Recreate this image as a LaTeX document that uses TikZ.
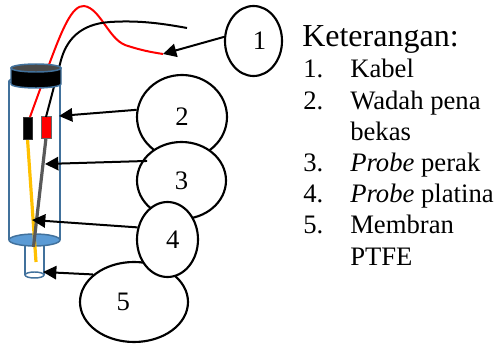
\documentclass[tikz,border=0pt]{standalone}
\usepackage{fontspec}
\setmainfont{Liberation Serif}
\usepackage{xcolor}
\usepackage{tikz}
\usetikzlibrary{shapes.geometric, arrows.meta}

\definecolor{tubeblue}{HTML}{41719C}
\definecolor{tubefill}{HTML}{5B9BD5}
\definecolor{wireyellow}{HTML}{FFC000}
\definecolor{wiregray}{HTML}{595959}
\definecolor{capgray}{HTML}{4A4A4A}

\newcommand{\labelfont}{\fontsize{20}{23.4}\selectfont}
\newcommand{\titlefont}{\fontsize{24}{28}\selectfont}

\tikzset{
  % Sensor body styles
  tubeline/.style={draw=tubeblue, line width=1.1pt},
  cable/.style={line width=1.5pt},
  wire/.style={line width=2.4pt},
  % Callout styles
  callout/.style={ellipse, draw=black, line width=1.6pt, fill=white, inner sep=0pt, font=\labelfont},
  pointer/.style={-{Triangle[length=10pt, width=10pt]}, line width=1.5pt},
}

\begin{document}
\begin{tikzpicture}[x=0.75pt, y=-0.75pt]
    \useasboundingbox (0,0) rectangle (497,345);

    % Tube (pen barrel)
    \draw[tubeline] (34.5,81) ellipse[x radius=25.5, y radius=4];
    \draw[tubeline] (9,81) -- (9,240);
    \draw[tubeline] (60,81) -- (60,240);
    \filldraw[tubeline, fill=tubefill] (34.5,240) ellipse[x radius=25.5, y radius=6];

    % Nozzle with membrane
    \draw[tubeline] (25,246) -- (25,275);
    \draw[tubeline] (44,246) -- (44,275);
    \filldraw[tubeline, fill=white] (34.5,275) ellipse[x radius=9.5, y radius=3];

    % Probes
    \draw[wire, wireyellow] (27.5,139) -- (36,262);
    \draw[wire, wiregray] (46,138) -- (33.5,247);

    % Connectors
    \filldraw[draw=black!80, fill=black] (23,117) rectangle (32,139);
    \filldraw[draw=black!60, fill=red] (41,116) rectangle (51,138);

    % Cables
    \draw[cable, red] (30,117) -- (50,62)
        .. controls (62,30) and (72,5) .. (84,6)
        .. controls (100,8) and (108,38) .. (125,45)
        .. controls (140,50) and (150,52) .. (163,54);
    \draw[cable, black] (46,117) -- (60.5,62)
        .. controls (66,40) and (80,24) .. (110,22)
        .. controls (140,20) and (165,24) .. (187,28);

    % Cap
    \filldraw[tubeline, fill=black] (11,68) -- (11,84)
        arc[start angle=180, end angle=0, x radius=25, y radius=4] -- (61,68) -- cycle;
    \filldraw[tubeline, fill=capgray] (36,68) ellipse[x radius=25, y radius=4];

    % Arrow targets
    \coordinate (redend) at (163,54);
    \coordinate (tubewall) at (59,116);
    \coordinate (silver) at (45,164);
    \coordinate (platinum) at (32,220);
    \coordinate (membrane) at (43,272);

    % Numbered callouts
    \node[callout, minimum width=42.75pt, minimum height=52.5pt,
          label={[font=\labelfont, xshift=4.5pt]center:1}] (e1) at (253.5,41) {};
    \node[callout, minimum width=67.5pt, minimum height=63pt] (e2) at (182,117) {2};
    \node[callout, minimum width=66.75pt, minimum height=57.75pt] (e3) at (181.5,180.5) {3};
    \node[callout, minimum width=81pt, minimum height=60pt,
          label={[font=\labelfont, xshift=-8pt]center:5}] (e5) at (134,302) {};
    \node[callout, minimum width=45.75pt, minimum height=56.25pt,
          label={[font=\labelfont, xshift=4pt]center:4}] (e4) at (167.5,239.5) {};

    % Arrows
    \draw[pointer] (e1.172) -- (redend);
    \draw[pointer] (e2.171) -- (tubewall);
    \draw[pointer, shorten <=-4pt] (e3.154) -- (silver);
    \draw[pointer] (e4.158) -- (platinum);
    \draw[pointer] (e5.146) -- (membrane);

    % Legend
    \node[anchor=base west, inner sep=0pt, font=\titlefont] (title) at (302,47) {Keterangan:};
    \node[anchor=base west, inner sep=0pt, font=\labelfont] (legend) at (303,78) {%
      \begin{tabular}[t]{@{}p{35.25pt}@{}l@{}}
        1. & Kabel\\
        2. & Wadah pena\\
           & bekas\\
        3. & \textit{Probe} perak\\
        4. & \textit{Probe} platina\\
        5. & Membran\\
           & PTFE
      \end{tabular}};
\end{tikzpicture}
\end{document}
